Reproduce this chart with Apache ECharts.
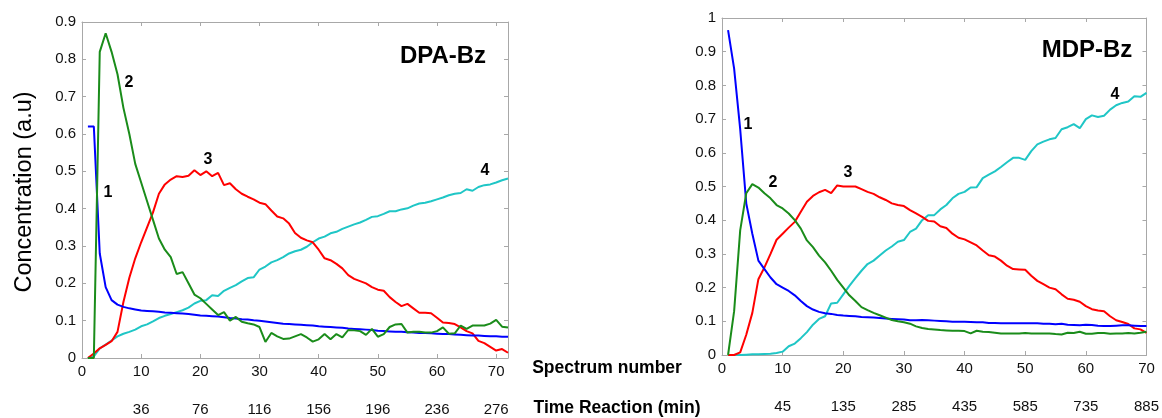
<!DOCTYPE html>
<html>
<head>
<meta charset="utf-8">
<script src="https://cdn.jsdelivr.net/npm/echarts@6/dist/echarts.min.js"></script>
<style>
html,body{margin:0;padding:0;background:#fff;}
#chart{width:1162px;height:418px;}
</style>
</head>
<body>
<div id="chart"></div>
<script>
// ---- DPA-Bz (left) : spectrum numbers 1..72 ----
const dpaSpectra = Array.from({length: 72}, (_, i) => i + 1);
const dpa1 = [0.62,0.62,0.28,0.19,0.155,0.143,0.137,0.133,0.13,0.127,0.126,0.125,0.124,0.122,0.121,0.12,0.119,0.118,0.116,0.114,0.113,0.112,0.111,0.109,0.107,0.106,0.104,0.103,0.101,0.1,0.098,0.096,0.094,0.092,0.091,0.09,0.089,0.088,0.087,0.085,0.084,0.083,0.082,0.081,0.079,0.078,0.077,0.076,0.075,0.073,0.072,0.071,0.07,0.07,0.069,0.068,0.067,0.067,0.066,0.065,0.064,0.064,0.063,0.062,0.061,0.06,0.06,0.059,0.058,0.058,0.057,0.057];
const dpa2 = [0,0,0.82,0.87,0.82,0.76,0.67,0.6,0.52,0.47,0.42,0.37,0.32,0.29,0.27,0.225,0.23,0.2,0.17,0.16,0.145,0.13,0.115,0.123,0.1,0.11,0.097,0.093,0.09,0.083,0.043,0.067,0.058,0.051,0.052,0.058,0.064,0.055,0.044,0.05,0.064,0.05,0.064,0.055,0.075,0.074,0.072,0.062,0.078,0.057,0.064,0.083,0.09,0.091,0.068,0.07,0.07,0.068,0.068,0.072,0.082,0.065,0.066,0.087,0.078,0.087,0.087,0.087,0.092,0.102,0.084,0.082];
const dpa3 = [0,0.012,0.026,0.035,0.045,0.07,0.15,0.215,0.267,0.31,0.35,0.39,0.44,0.465,0.478,0.487,0.485,0.488,0.503,0.49,0.5,0.487,0.496,0.463,0.468,0.452,0.44,0.432,0.425,0.416,0.412,0.395,0.379,0.374,0.36,0.335,0.322,0.315,0.31,0.29,0.267,0.262,0.252,0.24,0.222,0.212,0.206,0.2,0.19,0.183,0.18,0.163,0.15,0.139,0.145,0.133,0.121,0.121,0.12,0.108,0.095,0.094,0.091,0.082,0.072,0.066,0.046,0.04,0.03,0.02,0.024,0.014];
const dpa4 = [0,0.004,0.026,0.036,0.047,0.058,0.065,0.07,0.076,0.085,0.09,0.098,0.107,0.113,0.118,0.123,0.128,0.135,0.146,0.153,0.155,0.168,0.166,0.18,0.188,0.195,0.205,0.214,0.216,0.237,0.245,0.256,0.262,0.27,0.28,0.286,0.29,0.298,0.31,0.32,0.325,0.334,0.338,0.346,0.352,0.358,0.363,0.37,0.378,0.38,0.386,0.393,0.393,0.398,0.401,0.408,0.414,0.416,0.42,0.425,0.43,0.436,0.44,0.442,0.452,0.448,0.458,0.463,0.465,0.47,0.476,0.481];
const dpaTimeLabels = ['36','76','116','156','196','236','276'];

// ---- MDP-Bz (right) : spectrum numbers 1..70 ----
const mdpSpectra = Array.from({length: 70}, (_, i) => i + 1);
const mdp1 = [0.964,0.85,0.67,0.45,0.36,0.28,0.255,0.23,0.21,0.2,0.19,0.177,0.16,0.145,0.135,0.128,0.124,0.122,0.119,0.117,0.116,0.115,0.113,0.112,0.111,0.11,0.108,0.107,0.106,0.105,0.103,0.103,0.104,0.103,0.102,0.101,0.1,0.099,0.099,0.099,0.098,0.097,0.097,0.095,0.095,0.094,0.094,0.094,0.094,0.094,0.094,0.094,0.093,0.093,0.091,0.093,0.09,0.089,0.088,0.09,0.089,0.087,0.086,0.086,0.087,0.088,0.088,0.087,0.086,0.086];
const mdp2 = [0,0.13,0.37,0.48,0.507,0.497,0.48,0.465,0.445,0.435,0.42,0.4,0.375,0.34,0.32,0.295,0.275,0.25,0.223,0.2,0.177,0.16,0.142,0.133,0.125,0.118,0.111,0.104,0.1,0.097,0.093,0.085,0.08,0.077,0.076,0.074,0.073,0.072,0.072,0.071,0.064,0.072,0.069,0.068,0.066,0.064,0.064,0.064,0.064,0.065,0.064,0.064,0.064,0.064,0.062,0.061,0.066,0.065,0.069,0.063,0.063,0.065,0.065,0.063,0.064,0.064,0.065,0.064,0.066,0.069];
const mdp3 = [0,0,0.008,0.06,0.125,0.225,0.26,0.3,0.342,0.36,0.378,0.395,0.425,0.455,0.472,0.483,0.49,0.48,0.503,0.5,0.5,0.5,0.492,0.484,0.478,0.468,0.46,0.45,0.445,0.442,0.43,0.42,0.41,0.398,0.396,0.382,0.377,0.36,0.348,0.343,0.334,0.325,0.31,0.296,0.292,0.28,0.265,0.255,0.254,0.253,0.235,0.22,0.21,0.2,0.195,0.18,0.167,0.164,0.158,0.145,0.136,0.132,0.13,0.115,0.103,0.098,0.092,0.079,0.076,0.066];
const mdp4 = [0,0,0,0.001,0.002,0.002,0.003,0.004,0.006,0.01,0.026,0.034,0.05,0.068,0.09,0.107,0.115,0.153,0.155,0.18,0.205,0.228,0.25,0.27,0.28,0.295,0.31,0.322,0.336,0.341,0.365,0.375,0.4,0.415,0.415,0.432,0.445,0.465,0.478,0.484,0.497,0.498,0.525,0.535,0.545,0.558,0.572,0.585,0.585,0.579,0.605,0.625,0.633,0.64,0.644,0.67,0.676,0.685,0.673,0.7,0.711,0.706,0.71,0.728,0.741,0.748,0.752,0.768,0.766,0.778];
const mdpTimeLabels = ['45','135','285','435','585','735','885'];

const colors = ['#0000ff', '#1a8c1a', '#ff0000', '#1fc6c6'];
const FONT = "'Liberation Sans', Arial, sans-serif";
const AXIS_GRAY = '#a8a8a8';
const LABEL_SIZE = 15;

function pairs(xs, ys) { return xs.map((x, i) => [x, ys[i]]); }

function xAxes(grid, max, timeLabels) {
  const base = {
    gridIndex: grid, type: 'value', min: 0, max: max, interval: 10,
    splitLine: {show: false},
    axisLine: {show: true, onZero: false, lineStyle: {color: AXIS_GRAY, width: 1}},
    axisTick: {show: true, inside: true, length: 4, lineStyle: {color: AXIS_GRAY}}
  };
  return [
    Object.assign({}, base, {
      position: 'bottom',
      axisLabel: {fontSize: LABEL_SIZE, color: '#111', fontFamily: FONT, margin: 6,
        formatter: v => (v % 10 === 0 ? String(v) : '')}
    }),
    Object.assign({}, base, {position: 'top', axisLabel: {show: false}}),
    Object.assign({}, base, {
      position: 'bottom', offset: 38,
      axisLine: {show: false}, axisTick: {show: false},
      axisLabel: {fontSize: LABEL_SIZE, color: '#111', fontFamily: FONT, margin: 6,
        formatter: v => (v % 10 === 0 && v > 0 && v / 10 <= timeLabels.length ? timeLabels[v / 10 - 1] : '')}
    })
  ];
}

function yAxes(grid, max) {
  const base = {
    gridIndex: grid, type: 'value', min: 0, max: max, interval: 0.1,
    splitLine: {show: false},
    axisLine: {show: true, onZero: false, lineStyle: {color: AXIS_GRAY, width: 1}},
    axisTick: {show: true, inside: true, length: 4, lineStyle: {color: AXIS_GRAY}}
  };
  return [
    Object.assign({}, base, {
      position: 'left',
      axisLabel: {fontSize: LABEL_SIZE, color: '#111', fontFamily: FONT, margin: 6,
        formatter: v => String(Math.round(v * 10) / 10)}
    }),
    Object.assign({}, base, {position: 'right', axisLabel: {show: false}})
  ];
}

function lineSeries(xIdx, yIdx, xs, ys, color) {
  return {
    type: 'line', xAxisIndex: xIdx, yAxisIndex: yIdx,
    data: pairs(xs, ys), showSymbol: false, symbol: 'none', smooth: false,
    lineStyle: {color: color, width: 2}, animation: false, silent: true
  };
}

function txt(x, y, text, size, weight, extra) {
  return Object.assign({
    type: 'text', x: x, y: y,
    style: {text: text, fontSize: size, fontWeight: weight, fontFamily: FONT, fill: '#000',
      textAlign: 'center', textVerticalAlign: 'middle'}
  }, extra || {});
}

const chart = echarts.init(document.getElementById('chart'), null, {renderer: 'canvas'});
chart.setOption({
  animation: false,
  backgroundColor: '#fff',
  grid: [
    {left: 82, top: 22, width: 426, height: 336},
    {left: 722, top: 18, width: 428, height: 337}
  ],
  xAxis: [].concat(xAxes(0, 72, dpaTimeLabels), xAxes(1, 70, mdpTimeLabels)),
  yAxis: [].concat(yAxes(0, 0.9), yAxes(1, 1)),
  series: [
    lineSeries(0, 0, dpaSpectra, dpa4, colors[3]),
    lineSeries(0, 0, dpaSpectra, dpa3, colors[2]),
    lineSeries(0, 0, dpaSpectra, dpa1, colors[0]),
    lineSeries(0, 0, dpaSpectra, dpa2, colors[1]),
    lineSeries(3, 2, mdpSpectra, mdp4, colors[3]),
    lineSeries(3, 2, mdpSpectra, mdp3, colors[2]),
    lineSeries(3, 2, mdpSpectra, mdp1, colors[0]),
    lineSeries(3, 2, mdpSpectra, mdp2, colors[1])
  ],
  graphic: [
    txt(25, 192, 'Concentration (a.u)', 23.5, 'normal', {rotation: Math.PI / 2}),
    txt(443, 56, 'DPA-Bz', 24, 'bold'),
    txt(1087, 50, 'MDP-Bz', 24, 'bold'),
    txt(108, 193, '1', 16, 'bold'),
    txt(129, 83, '2', 16, 'bold'),
    txt(208, 160, '3', 16, 'bold'),
    txt(485, 171, '4', 16, 'bold'),
    txt(748, 125, '1', 16, 'bold'),
    txt(773, 183, '2', 16, 'bold'),
    txt(848, 173, '3', 16, 'bold'),
    txt(1115, 95, '4', 16, 'bold'),
    txt(607, 368, 'Spectrum number', 17.5, 'bold'),
    txt(617, 408, 'Time Reaction (min)', 17.5, 'bold')
  ]
});
</script>
</body>
</html>
